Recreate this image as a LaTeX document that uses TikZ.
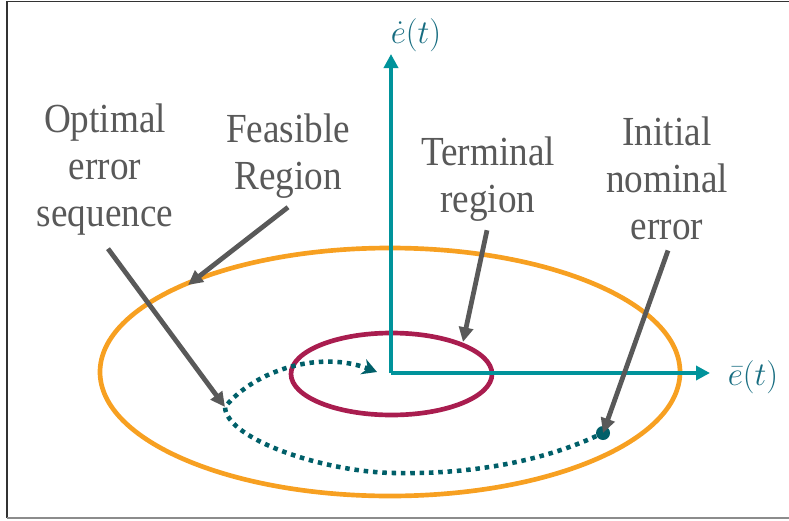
\documentclass[tikz,border=0pt]{standalone}
\usepackage{amsmath}
\usepackage{fontspec}
\setmainfont{Liberation Serif}
\newfontfamily\notefont{Liberation Serif}[FakeStretch=0.9]
\usetikzlibrary{arrows.meta, positioning, shapes.geometric}
\definecolor{axisteal}{RGB}{0,147,155}
\definecolor{labelteal}{RGB}{22,108,128}
\definecolor{trajteal}{RGB}{0,95,105}
\definecolor{feasorange}{RGB}{247,160,33}
\definecolor{termred}{RGB}{169,29,79}
\definecolor{notegray}{RGB}{89,89,89}

\begin{document}
\begin{tikzpicture}[x=0.75pt, y=-0.75pt, >=Stealth,
    note/.style={align=center, text=notegray, font=\notefont\fontsize{31}{35.25}\selectfont, inner sep=2pt},
    axislabel/.style={text=labelteal, font=\fontsize{33}{37}\selectfont, inner sep=0pt},
    region/.style={ellipse, draw, line width=3.5pt, inner sep=0pt, minimum width=#1},
    axis/.style={-{Triangle[length=10.5pt, width=10.5pt]}, draw=axisteal, line width=3pt},
    pointer/.style={-{Triangle[length=11pt, width=10.5pt]}, draw=notegray, line width=3.6pt},
    traj/.style={-{Stealth[length=11pt, width=12pt]}, draw=trajteal, line width=3.4pt, dash pattern=on 3.4pt off 3.6pt}]
  \useasboundingbox (0,0) rectangle (789,521);
  \draw[line width=1.2pt, black!80] (789,1.5) -- (7,1.5) -- (7,518);
  \draw[line width=1.2pt, black!45] (7,518) -- (789,518);
  \node[region=435pt, draw=feasorange, minimum height=186pt] (feas) at (390,372) {};
  \node[region=150.75pt, draw=termred, minimum height=61.5pt] (term) at (391.5,374) {};
  \coordinate (origin) at (391,373);
  \coordinate (xend) at (710,373);
  \coordinate (yend) at (391,54);
  \draw[axis] (origin) -- (xend);
  \draw[axis] (origin) -- (yend);
  \node[axislabel] (ebar) at (753,377) {$\bar{e}(t)$};
  \node[axislabel] (edot) at (416,35) {$\dot{e}(t)$};
  \node[circle, fill=trajteal, inner sep=0pt, minimum size=10.5pt] (start) at (603,433) {};
  \coordinate (bottom) at (400,473);
  \coordinate (bend) at (225,407);
  \coordinate (goal) at (377,372);
  \draw[traj] (start) .. controls (540,462) and (470,474) .. (bottom)
    .. controls (330,474) and (226,440) .. (bend)
    .. controls (255,370) and (320,350) .. (goal);
  \node[note] (optlbl) at (105,170) {Optimal\\error\\sequence};
  \node[note] (feaslbl) at (288,156) {Feasible\\Region};
  \node[note] (termlbl) at (488,179) {Terminal\\region};
  \node[note] (initlbl) at (667,178) {Initial\\nominal\\error};
  \coordinate (feastip) at (188,285);
  \coordinate (termtip) at (463,342);
  \draw[pointer] (optlbl.south) ++(3,10) -- (bend);
  \draw[pointer] (feaslbl.south) ++(0,6) -- (feastip);
  \draw[pointer] (termlbl.south) ++(-1,6) -- (termtip);
  \draw[pointer] (initlbl.south) ++(1,8) -- (start.center);
\end{tikzpicture}
\end{document}
